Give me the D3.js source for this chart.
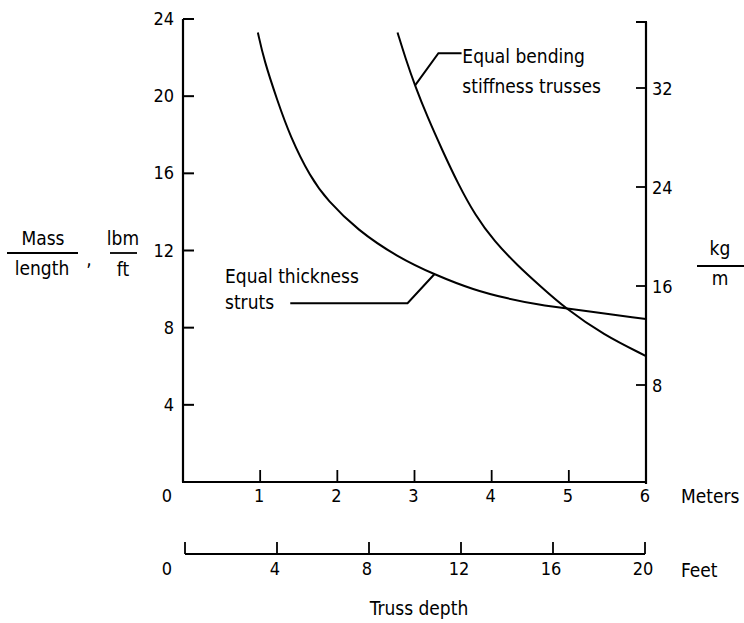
<!DOCTYPE html>
<html>
<head>
<meta charset="utf-8">
<script src="https://cdn.jsdelivr.net/npm/d3@7"></script>
<style>
  body { margin: 0; background: #fff; }
  text { font-family: "DejaVu Sans Condensed", "Liberation Sans Narrow", sans-serif; font-size: 19px; fill: #000; }
  text.tick { font-size: 18px; }
</style>
</head>
<body>
<div id="viz-container"></div>
<script>
// Truss depth (m) vs mass/length (lbm/ft)
const thicknessDepth = [0.97, 1.05, 1.22, 1.39, 1.65, 1.87, 2.26, 2.78, 3.27, 3.77, 4.21, 4.64, 4.92, 6.0];
const thicknessMass  = [23.3, 21.87, 19.8, 17.9, 15.8, 14.6, 13.06, 11.66, 10.73, 9.95, 9.5, 9.17, 9.02, 8.45];

const bendingDepth = [2.78, 2.88, 3.01, 3.17, 3.36, 3.56, 3.79, 4.03, 4.34, 4.64, 4.94, 5.45, 6.0];
const bendingMass  = [23.3, 22.0, 20.5, 18.9, 17.2, 15.49, 13.8, 12.5, 11.2, 10.12, 9.05, 7.62, 6.53];

const meterTicks = [0, 1, 2, 3, 4, 5, 6];
const feetTicks = [0, 4, 8, 12, 16, 20];
const lbmTicks = [4, 8, 12, 16, 20, 24];
const kgTicks = [8, 16, 24, 32];

const width = 744, height = 623;

const svg = d3.select("#viz-container").append("svg")
    .attr("width", width).attr("height", height);

// scales
const x = d3.scaleLinear().domain([0, 6]).range([183, 646]);
const xFt = d3.scaleLinear().domain([0, 20]).range([185, 645]);
const y = d3.scaleLinear().domain([0, 24]).range([482, 19]);
const yKg = d3.scaleLinear().domain([0, 32]).range([484, 88]);

const ink = "#000";

// left axis
svg.append("line").attr("x1", x(0)).attr("x2", x(0)).attr("y1", y(24)).attr("y2", y(0))
    .attr("stroke", ink).attr("stroke-width", 2.2);
svg.selectAll(".ltick").data(lbmTicks).enter().append("line")
    .attr("x1", x(0)).attr("x2", x(0) + 11)
    .attr("y1", d => y(d)).attr("y2", d => y(d))
    .attr("stroke", ink).attr("stroke-width", 2);
svg.selectAll(".llab").data(lbmTicks).enter().append("text").attr("class", "tick")
    .attr("x", x(0) - 9).attr("y", d => y(d) + 6)
    .attr("text-anchor", "end").text(d => d);

// right axis
svg.append("line").attr("x1", 646).attr("x2", 646).attr("y1", 22).attr("y2", yKg(0))
    .attr("stroke", ink).attr("stroke-width", 2.2);
svg.append("line").attr("x1", 636).attr("x2", 647).attr("y1", 22).attr("y2", 22)
    .attr("stroke", ink).attr("stroke-width", 2);
svg.selectAll(".rtick").data(kgTicks).enter().append("line")
    .attr("x1", 636).attr("x2", 646)
    .attr("y1", d => yKg(d)).attr("y2", d => yKg(d))
    .attr("stroke", ink).attr("stroke-width", 1.8);
svg.selectAll(".rlab").data(kgTicks).enter().append("text").attr("class", "tick")
    .attr("x", 652).attr("y", d => yKg(d) + 7)
    .text(d => d);

// bottom meters axis
svg.append("line").attr("x1", x(0) - 1).attr("x2", x(6) + 1).attr("y1", y(0)).attr("y2", y(0))
    .attr("stroke", ink).attr("stroke-width", 2.2);
svg.selectAll(".mtick").data(meterTicks.slice(1, 6)).enter().append("line")
    .attr("x1", d => x(d)).attr("x2", d => x(d))
    .attr("y1", y(0) - 12).attr("y2", y(0))
    .attr("stroke", ink).attr("stroke-width", 1.8);
svg.selectAll(".mlab").data(meterTicks).enter().append("text").attr("class", "tick")
    .attr("x", d => d === 0 ? x(d) - 16 : x(d) - 1).attr("y", 502)
    .attr("text-anchor", "middle").text(d => d);
svg.append("text").attr("x", 681).attr("y", 503).text("Meters");

// feet axis
svg.append("line").attr("x1", xFt(0)).attr("x2", xFt(20)).attr("y1", 554).attr("y2", 554)
    .attr("stroke", ink).attr("stroke-width", 2);
svg.selectAll(".ftick").data(feetTicks).enter().append("line")
    .attr("x1", d => xFt(d)).attr("x2", d => xFt(d))
    .attr("y1", 542).attr("y2", 554)
    .attr("stroke", ink).attr("stroke-width", 1.8);
svg.selectAll(".flab").data(feetTicks).enter().append("text").attr("class", "tick")
    .attr("x", d => d === 0 ? xFt(d) - 18 : xFt(d) - 2).attr("y", 575)
    .attr("text-anchor", "middle").text(d => d);
svg.append("text").attr("x", 681).attr("y", 577).text("Feet");
svg.append("text").attr("x", 419).attr("y", 615).attr("text-anchor", "middle").text("Truss depth");

// left axis title: Mass/length , lbm/ft
svg.append("text").attr("x", 43).attr("y", 245).attr("text-anchor", "middle").text("Mass");
svg.append("line").attr("x1", 7).attr("x2", 78).attr("y1", 253).attr("y2", 253)
    .attr("stroke", ink).attr("stroke-width", 1.8);
svg.append("text").attr("x", 42).attr("y", 275).attr("text-anchor", "middle").text("length");
svg.append("text").attr("x", 89).attr("y", 266).attr("text-anchor", "middle").text(",");
svg.append("text").attr("x", 123).attr("y", 245).attr("text-anchor", "middle").text("lbm");
svg.append("line").attr("x1", 110).attr("x2", 137).attr("y1", 253).attr("y2", 253)
    .attr("stroke", ink).attr("stroke-width", 1.8);
svg.append("text").attr("x", 123).attr("y", 276).attr("text-anchor", "middle").text("ft");

// right axis title: kg/m
svg.append("text").attr("x", 720).attr("y", 255).attr("text-anchor", "middle").text("kg");
svg.append("line").attr("x1", 697).attr("x2", 744).attr("y1", 266).attr("y2", 266)
    .attr("stroke", ink).attr("stroke-width", 1.8);
svg.append("text").attr("x", 720).attr("y", 285).attr("text-anchor", "middle").text("m");

// curves (basis smooths out reading noise)
const line = d3.line().x(d => x(d[0])).y(d => y(d[1])).curve(d3.curveBasis);

svg.append("path").datum(d3.zip(thicknessDepth, thicknessMass))
    .attr("d", line).attr("fill", "none").attr("stroke", ink).attr("stroke-width", 2);
svg.append("path").datum(d3.zip(bendingDepth, bendingMass))
    .attr("d", line).attr("fill", "none").attr("stroke", ink).attr("stroke-width", 2);

// leader lines and labels
const straight = d3.line().x(d => x(d[0])).y(d => y(d[1]));
svg.append("path").datum([[3.61, 22.23], [3.31, 22.23], [3.01, 20.57]])
    .attr("d", straight).attr("fill", "none").attr("stroke", ink).attr("stroke-width", 2);
svg.append("text").attr("x", x(3.62)).attr("y", 63).text("Equal bending");
svg.append("text").attr("x", x(3.62)).attr("y", 93).text("stiffness trusses");

svg.append("path").datum([[1.39, 9.27], [2.91, 9.27], [3.26, 10.78]])
    .attr("d", straight).attr("fill", "none").attr("stroke", ink).attr("stroke-width", 2);
svg.append("text").attr("x", 225).attr("y", 283).text("Equal thickness");
svg.append("text").attr("x", 225).attr("y", 309).text("struts");
</script>
</body>
</html>
